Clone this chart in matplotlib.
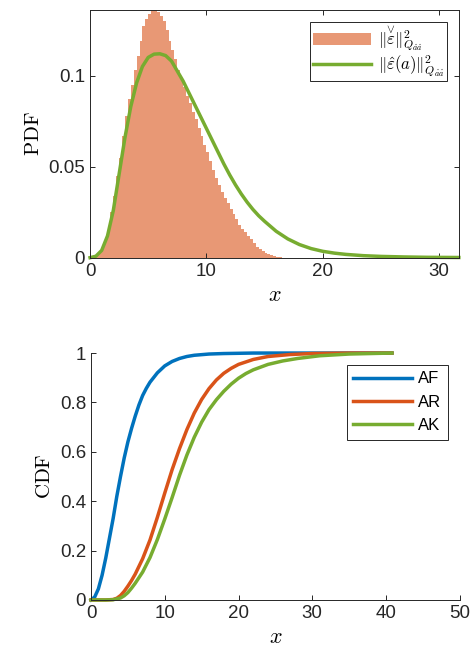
import numpy as np
import matplotlib.pyplot as plt

plt.rcParams['font.family'] = ['Liberation Sans', 'DejaVu Sans']
plt.rcParams['mathtext.fontset'] = 'cm'

# top panel: histogram of samples (bin width 0.25 starting at 0)
hist_width = 0.25
hist_vals = [0.000, 0.0005, 0.0015, 0.003, 0.006, 0.010, 0.017, 0.025, 0.034, 0.045,
             0.055, 0.067, 0.078, 0.087, 0.095, 0.103, 0.111, 0.119, 0.127, 0.131,
             0.134, 0.136, 0.136, 0.135, 0.133, 0.130, 0.125, 0.119, 0.114, 0.109,
             0.103, 0.098, 0.094, 0.089, 0.085, 0.080, 0.076, 0.071, 0.067, 0.062,
             0.058, 0.053, 0.048, 0.044, 0.040, 0.036, 0.033, 0.030, 0.027, 0.024,
             0.021, 0.018, 0.016, 0.014, 0.012, 0.010, 0.008, 0.006, 0.0045, 0.0035,
             0.0027, 0.002, 0.0015, 0.001, 0.0005, 0.0002]

# top panel: approximated pdf
pdf_x = [0, 0.5, 1.0, 1.5, 2.0, 2.5, 3.0, 3.5, 4.0, 4.5, 5.0, 5.5, 6.0, 6.5, 7.0,
         7.5, 8.0, 8.5, 9.0, 9.5, 10.0, 10.5, 11.0, 11.5, 12.0, 12.5, 13.0, 13.5,
         14.0, 14.5, 15.0, 16.0, 17.0, 18.0, 19.0, 20.0, 21.0, 22.0, 23.5, 25.0,
         27.0, 29.0, 31.7]
pdf_y = [0, 0.0008, 0.004, 0.012, 0.026, 0.046, 0.066, 0.083, 0.096, 0.105, 0.110,
         0.1118, 0.112, 0.111, 0.108, 0.1025, 0.097, 0.0905, 0.084, 0.0775, 0.071,
         0.0645, 0.058, 0.0515, 0.0455, 0.040, 0.035, 0.0305, 0.0265, 0.023, 0.020,
         0.0145, 0.0103, 0.0072, 0.005, 0.0035, 0.0025, 0.0018, 0.0011, 0.0007,
         0.0004, 0.0002, 0.0001]

# bottom panel: CDFs
af_x = [0, 0.5, 1, 1.5, 2, 2.5, 3, 3.5, 4, 4.5, 5, 5.5, 6, 6.5, 7, 7.5, 8, 9, 10,
        11, 12, 13, 14, 16, 18, 22, 30, 40.8]
af_y = [0, 0.012, 0.045, 0.10, 0.17, 0.25, 0.33, 0.42, 0.50, 0.575, 0.64, 0.695,
        0.745, 0.79, 0.828, 0.857, 0.882, 0.92, 0.948, 0.966, 0.978, 0.986, 0.991,
        0.996, 0.998, 1.0, 1.0, 1.0]

ar_x = [0, 2, 3, 3.5, 4, 4.5, 5, 5.5, 6, 7, 8, 9, 10, 11, 12, 13, 14, 15, 16, 17, 18,
        19, 20, 22, 24, 27, 30, 35, 40.8]
ar_y = [0, 0, 0.002, 0.007, 0.018, 0.035, 0.056, 0.079, 0.105, 0.167, 0.243, 0.335,
        0.433, 0.528, 0.613, 0.69, 0.757, 0.812, 0.856, 0.891, 0.918, 0.938, 0.954,
        0.974, 0.986, 0.994, 0.998, 1.0, 1.0]

ak_x = [0, 2, 3, 4, 4.5, 5, 5.5, 6, 7, 8, 9, 10, 11, 12, 13, 14, 15, 16, 17, 18, 19,
        20, 21, 22, 24, 26, 28, 31, 35, 40.8]
ak_y = [0, 0, 0.001, 0.008, 0.017, 0.03, 0.048, 0.068, 0.113, 0.172, 0.245, 0.328,
        0.415, 0.505, 0.587, 0.659, 0.72, 0.771, 0.811, 0.845, 0.874, 0.898, 0.917,
        0.932, 0.954, 0.968, 0.978, 0.989, 0.996, 1.0]

blue = '#0072BD'
orange = '#D95319'
green = '#77AC30'
hist_color = '#E89875'
axis_color = '#262626'

fig = plt.figure(figsize=(4.74, 6.55), dpi=100)
ax1 = fig.add_axes([0.190, 0.6066, 0.778, 0.378])
ax2 = fig.add_axes([0.192, 0.084, 0.778, 0.377])

# %% top
edges = np.arange(len(hist_vals) + 1) * hist_width
ax1.stairs(hist_vals, edges, fill=True, color=hist_color, lw=0,
           label=r'$\Vert\overset{\vee}{\varepsilon}\Vert^2_{Q_{\hat{a}\hat{a}}}$')
ax1.plot(pdf_x, pdf_y, color=green, lw=2.5, clip_on=False,
         label=r'$\Vert\hat{\varepsilon}(a)\Vert^2_{Q_{\hat{a}\hat{a}}}$')
ax1.set_xlim(0, 31.7)
ax1.set_ylim(0, 0.136)
ax1.set_xticks([0, 10, 20, 30])
ax1.set_yticks([0, 0.05, 0.1])
ax1.set_yticklabels(['0', '0.05', '0.1'])
ax1.set_xlabel('$x$', fontsize=16)
ax1.set_ylabel(r'$\mathrm{PDF}$', fontsize=15)
ax1.tick_params(direction='in', top=True, right=True, length=3.5, width=0.7,
                labelsize=13.5, colors=axis_color)
for s in ax1.spines.values():
    s.set_color(axis_color)
    s.set_linewidth(0.7)
leg1 = ax1.legend(loc='upper right', fontsize=12, fancybox=False, framealpha=1,
                  edgecolor=axis_color, borderaxespad=0.7, handlelength=3.5,
                  handletextpad=0.4, borderpad=0.15, labelspacing=0.0)
leg1.get_frame().set_linewidth(0.7)

# %% bottom
ax2.plot(af_x, af_y, color=blue, lw=2.5, clip_on=False, label='AF')
ax2.plot(ar_x, ar_y, color=orange, lw=2.5, clip_on=False, label='AR')
ax2.plot(ak_x, ak_y, color=green, lw=2.5, clip_on=False, label='AK')
ax2.set_xlim(0, 50)
ax2.set_ylim(0, 1)
ax2.set_xticks(range(0, 51, 10))
ax2.set_yticks([0, 0.2, 0.4, 0.6, 0.8, 1])
ax2.set_yticklabels(['0', '0.2', '0.4', '0.6', '0.8', '1'])
ax2.set_xlabel('$x$', fontsize=16)
ax2.set_ylabel(r'$\mathrm{CDF}$', fontsize=15)
ax2.tick_params(direction='in', length=3.5, width=0.7, labelsize=13.5,
                colors=axis_color)
ax2.spines['top'].set_visible(False)
ax2.spines['right'].set_visible(False)
for s in ['left', 'bottom']:
    ax2.spines[s].set_color(axis_color)
    ax2.spines[s].set_linewidth(0.7)
leg2 = ax2.legend(loc='upper right', fontsize=12, fancybox=False, framealpha=1,
                  edgecolor=axis_color, borderaxespad=0.7, handlelength=3.5,
                  handletextpad=0.4, borderpad=0.4, labelspacing=0.5)
leg2.get_frame().set_linewidth(0.7)

fig.savefig('out.png', dpi=100)
